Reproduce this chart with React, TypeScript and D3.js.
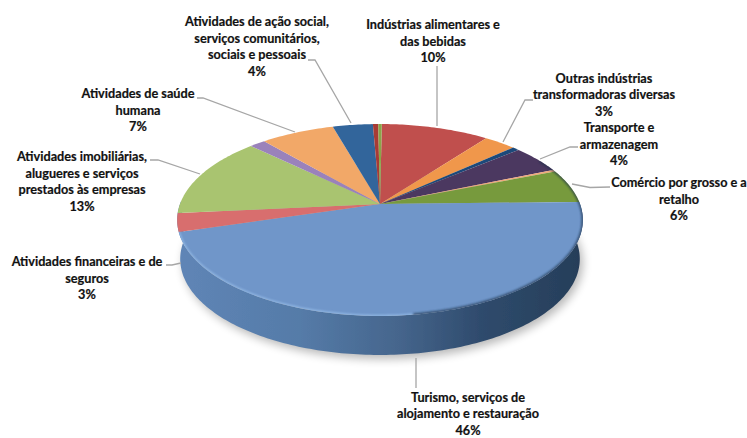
import * as d3 from "d3";

const categories = [
  "Indústrias alimentares e das bebidas",
  "Outras indústrias transformadoras diversas",
  "Indústrias extrativas",
  "Transporte e armazenagem",
  "Eletricidade, gás e água",
  "Comércio por grosso e a retalho",
  "Turismo, serviços de alojamento e restauração",
  "Atividades financeiras e de seguros",
  "Atividades imobiliárias, alugueres e serviços prestados às empresas",
  "Educação",
  "Atividades de saúde humana",
  "Atividades de ação social, serviços comunitários, sociais e pessoais",
  "Construção",
  "Agricultura e pescas",
];
const values = [10.1, 3.0, 0.65, 4.75, 0.3, 5.67, 45.75, 3.1, 13.7, 1.5, 6.9, 3.75, 0.5, 0.33];
const colors = [
  "#c0504d", "#f0974c", "#1f4a7a", "#4c3760", "#f0a878", "#779a3c", "#7096c9",
  "#d86e6e", "#a9c46f", "#9a82bb", "#f2a868", "#33659b", "#a83a36", "#8aa54a",
];

const labels = [
  { lines: ["Atividades de ação social,", "serviços comunitários,", "sociais e pessoais", "4%"], x: 257, y: 22 },
  { lines: ["Atividades de saúde", "humana", "7%"], x: 138, y: 94 },
  { lines: ["Indústrias alimentares e", "das bebidas", "10%"], x: 433, y: 25 },
  { lines: ["Outras indústrias", "transformadoras diversas", "3%"], x: 604, y: 78.5 },
  { lines: ["Transporte e", "armazenagem", "4%"], x: 619, y: 128 },
  { lines: ["Comércio por grosso e a", "retalho", "6%"], x: 679, y: 183 },
  { lines: ["Atividades imobiliárias,", "alugueres e serviços", "prestados às empresas", "13%"], x: 82, y: 157 },
  { lines: ["Atividades financeiras e de", "seguros", "3%"], x: 87, y: 262 },
  { lines: ["Turismo, serviços de", "alojamento e restauração", "46%"], x: 468, y: 397.5 },
];
const leaders = [
  [[308, 60], [315, 60], [351, 123]],
  [[197, 98], [203, 98], [295, 132]],
  [[437, 66], [437, 126]],
  [[533, 100], [525, 100], [503, 142]],
  [[578, 147], [570, 147], [540, 159]],
  [[610, 187], [590, 187.5], [572, 184]],
  [[150, 160], [158, 160], [200, 174]],
  [[166, 265], [172, 265], [181, 263]],
  [[416, 358], [416, 388]],
];

const width = 747;
const height = 438;
const tilt = 1 / 6;
const depth = 39;
const rad = Math.PI / 180;

const xScale = d3.scaleLinear().domain([-1, 1]).range([180, 580]);
const yScale = d3.scaleLinear().domain([-1, 1]).range([204 + 93.3, 204 - 93.3]);

function project(a: number, r = 1): [number, number] {
  const v = r * Math.cos(a);
  const w = 1 + tilt * v;
  return [xScale((r * Math.sin(a)) / w), yScale(v / w)];
}
function lower(a: number): [number, number] {
  const [x, y] = project(a);
  return [380 + (x - 380) * 0.985, y + depth];
}
function arcPoints(a0: number, a1: number, fn = project as (a: number) => [number, number]) {
  const n = Math.max(2, Math.ceil(Math.abs(a1 - a0) / (1 * rad)));
  return d3.range(n + 1).map((i) => fn(a0 + ((a1 - a0) * i) / n));
}

const line = d3.line();
const pie = d3.pie<number>().sort(null).value((d) => d).startAngle(0.6 * rad).endAngle(360.6 * rad);
const slices = pie(values);

export default function App() {
  const blue = slices[6];
  const sidePath =
    line([...arcPoints(88 * rad, 272 * rad), ...arcPoints(272 * rad, 88 * rad, lower)]) + "Z";
  const facePath = line(arcPoints(0, 360 * rad)) + "Z";
  const shadowPath = line(arcPoints(0, 360 * rad, lower)) + "Z";

  return (
    <svg
      width={width}
      height={height}
      style={{ position: "absolute", left: 0, top: 0, background: "#fff" }}
    >
      <defs>
        <linearGradient id="side" gradientUnits="userSpaceOnUse" x1={180} x2={580} y1={0} y2={0}>
          <stop offset="0" stopColor="#5f85b6" />
          <stop offset="0.3" stopColor="#557ba8" />
          <stop offset="0.55" stopColor="#45658c" />
          <stop offset="0.75" stopColor="#2f4b6d" />
          <stop offset="1" stopColor="#263e59" />
        </linearGradient>
        <filter id="shadow" x="-10%" y="-20%" width="120%" height="140%">
          <feGaussianBlur stdDeviation="5" />
        </filter>
        <filter id="soft" x="-5%" y="-5%" width="110%" height="110%">
          <feGaussianBlur stdDeviation="1.2" />
        </filter>
        <filter id="tiny" x="-5%" y="-5%" width="110%" height="110%">
          <feGaussianBlur stdDeviation="0.4" />
        </filter>
        <clipPath id="face">
          <path d={facePath} />
        </clipPath>
      </defs>

      <path d={shadowPath} transform="translate(3,4)" fill="#000" opacity={0.28} filter="url(#shadow)" />
      <path d={sidePath} fill="url(#side)" filter="url(#tiny)" />

      <g filter="url(#tiny)">
        {slices.map((s, i) => (
          <path
            key={categories[i]}
            d={line([project(0, 0), ...arcPoints(s.startAngle, s.endAngle)]) + "Z"}
            fill={colors[i]}
          />
        ))}
      </g>

      <g clipPath="url(#face)">
        <path
          d={line(arcPoints(blue.endAngle, 172 * rad)) ?? ""}
          fill="none"
          stroke="#a6cdf6"
          strokeWidth={2.5}
          opacity={0.6}
          filter="url(#soft)"
        />
        <path
          d={line(arcPoints(172 * rad, 60 * rad)) ?? ""}
          fill="none"
          stroke="#1c3048"
          strokeWidth={2.5}
          opacity={0.75}
          filter="url(#soft)"
        />
      </g>

      <g fill="none" stroke="#a6a6a6" strokeWidth={1.3}>
        {leaders.map((pts, i) => (
          <path key={i} d={line(pts as [number, number][]) ?? ""} />
        ))}
      </g>

      <g
        fontFamily="Lato, 'Open Sans', sans-serif"
        fontWeight={700}
        fontSize={12.7}
        fill="#111"
        stroke="#111"
        strokeWidth={0.2}
        textAnchor="middle"
      >
        {labels.map((l) =>
          l.lines.map((t, j) => (
            <text key={t + l.x} x={l.x} y={l.y + j * 16.5 + 4.2}>
              {t}
            </text>
          ))
        )}
      </g>
    </svg>
  );
}
